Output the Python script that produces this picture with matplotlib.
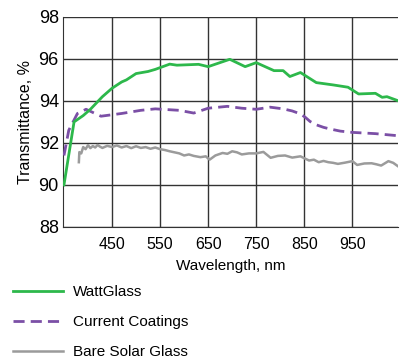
import matplotlib.pyplot as plt

plt.rcParams['font.family'] = ['Liberation Sans', 'DejaVu Sans']

# WattGlass
watt_wl = [350, 371, 390, 405, 430, 450, 470, 480, 500, 525, 540, 570, 585, 630, 650,
           695, 727, 750, 787, 806, 820, 842, 875, 910, 941, 963, 998, 1012, 1022, 1046]
watt_t = [90.0, 93.0, 93.3, 93.6, 94.2, 94.6, 94.9, 95.0, 95.3, 95.4, 95.5, 95.75, 95.7, 95.74, 95.63,
          95.98, 95.63, 95.82, 95.44, 95.44, 95.16, 95.35, 94.87, 94.76, 94.65, 94.33, 94.36, 94.17, 94.2, 94.0]

# Current Coatings
coat_wl = [350, 360, 378, 396, 410, 427, 470, 510, 540, 590, 620, 650, 690, 720, 750,
           779, 806, 825, 842, 852, 862, 875, 890, 904, 925, 950, 998, 1050]
coat_t = [91.4, 92.6, 93.4, 93.6, 93.45, 93.27, 93.4, 93.55, 93.62, 93.55, 93.42, 93.65, 93.74, 93.65, 93.6,
          93.7, 93.62, 93.52, 93.38, 93.22, 93.02, 92.86, 92.74, 92.66, 92.56, 92.5, 92.44, 92.33]

# Bare Solar Glass
bare_wl = [381, 382, 386, 390, 395, 400, 405, 410, 415, 420, 425, 430, 440, 450, 460, 470, 480, 490,
           500, 510, 520, 530, 540, 550, 560, 570, 580, 590, 600, 610, 620, 634, 645, 653, 665, 680,
           690, 700, 710, 720, 735, 750, 765, 780, 795, 810, 825, 842, 860, 870, 880, 890, 900, 910,
           920, 935, 950, 960, 975, 990, 1000, 1010, 1025, 1035, 1046]
bare_t = [91.08, 91.56, 91.5, 91.8, 91.7, 91.89, 91.75, 91.85, 91.78, 91.9, 91.82, 91.76, 91.86, 91.8,
          91.88, 91.78, 91.85, 91.75, 91.84, 91.76, 91.8, 91.72, 91.78, 91.7, 91.66, 91.6, 91.55, 91.5,
          91.4, 91.45, 91.38, 91.32, 91.36, 91.2, 91.4, 91.52, 91.48, 91.6, 91.55, 91.45, 91.5, 91.5,
          91.57, 91.29, 91.38, 91.4, 91.3, 91.36, 91.16, 91.2, 91.08, 91.14, 91.08, 91.05, 91.0, 91.06,
          91.13, 90.95, 91.02, 91.03, 90.98, 90.92, 91.13, 91.05, 90.87]

fig = plt.figure(figsize=(4.0, 3.59), dpi=100)
ax = fig.add_axes([0.1575, 0.368, 0.8375, 0.585])

ax.plot(watt_wl, watt_t, color='#2DB84B', lw=2.0, label='WattGlass', zorder=4)
ax.plot(coat_wl, coat_t, color='#7B4FA6', lw=2.0, ls=(0, (4, 2.2)), label='Current Coatings', zorder=3)
ax.plot(bare_wl, bare_t, color='#9B9B9B', lw=1.8, label='Bare Solar Glass', zorder=2)

ax.set_xlim(348, 1045)
ax.set_ylim(88, 98)
ax.set_xticks([450, 550, 650, 750, 850, 950])
ax.set_yticks([88, 90, 92, 94, 96, 98])
ax.grid(True, color='#333333', lw=1.0)
ax.set_axisbelow(True)
for s in ['top', 'right']:
    ax.spines[s].set_visible(False)
ax.spines['left'].set_color('#333333')
ax.spines['bottom'].set_color('#333333')
ax.tick_params(length=0, pad=3)
ax.tick_params(axis='y', labelsize=13)
ax.tick_params(axis='x', labelsize=11.5, pad=7)
ax.set_xlabel('Wavelength, nm', fontsize=11, labelpad=5)
ax.set_ylabel('Transmittance, %', fontsize=11.5, labelpad=4)

fig.legend(loc='upper left', bbox_to_anchor=(0.032, 0.205), frameon=False, fontsize=11,
           handlelength=3.3, handletextpad=0.65, labelspacing=1.03, borderaxespad=0, borderpad=0)

fig.savefig('out.png', dpi=100)
